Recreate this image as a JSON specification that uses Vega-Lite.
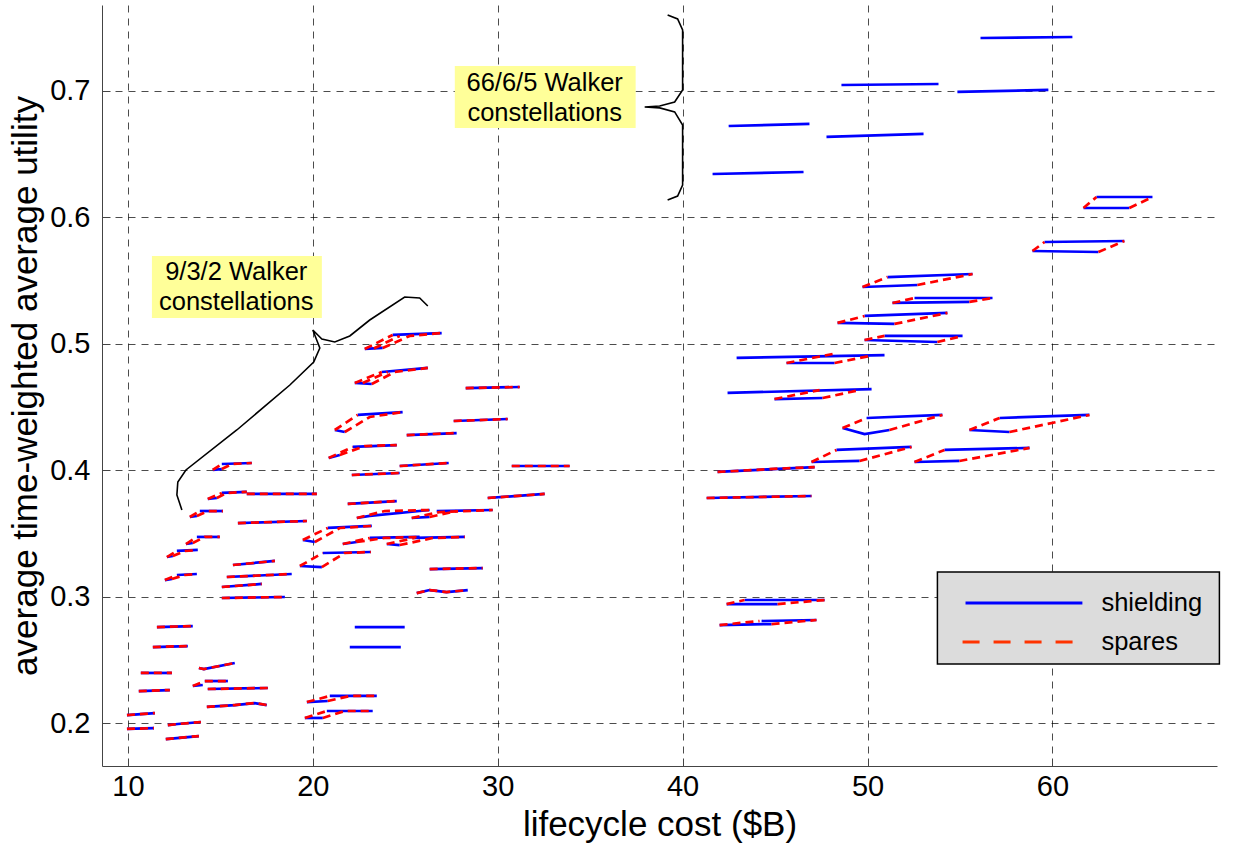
{
"$schema":"https://vega.github.io/schema/vega-lite/v6.json",
"width":1115,"height":761,"autosize":{"type":"none"},
"padding":{"left":102,"top":5,"right":16,"bottom":79},
"config":{"font":"Liberation Sans","view":{"stroke":null},
"axis":{"gridColor":"#000","gridDash":[7,6],"gridOpacity":0.7,"gridWidth":1,"domainColor":"#444","domainWidth":1,"tickColor":"#444","labelColor":"#000","titleColor":"#000","labelFont":"Liberation Sans","titleFont":"Liberation Sans","titleFontWeight":"normal","labelFontSize":29,"titleFontSize":35}},
"datasets":{
"boxes":[{"x":11.30,"xe":20.49,"y":0.5204,"ye":0.5695},{"x":27.68,"xe":37.46,"y":0.6707,"ye":0.7198}],
"boxtext":[{"x":15.86,"y":0.5453,"label":"9/3/2 Walker\nconstellations"},{"x":32.54,"y":0.6945,"label":"66/6/5 Walker\nconstellations"}],
"shielding":[
{"g":"1","x":11.57,"y":0.2759},{"g":"1","x":13.51,"y":0.2767},
{"g":"2","x":11.35,"y":0.2601},{"g":"2","x":13.24,"y":0.2609},
{"g":"3","x":10.70,"y":0.2396},{"g":"3","x":12.38,"y":0.2396},
{"g":"4","x":10.59,"y":0.2253},{"g":"4","x":12.27,"y":0.2261},
{"g":"5","x":9.95,"y":0.2063},{"g":"5","x":11.46,"y":0.2079},
{"g":"6","x":9.95,"y":0.1953},{"g":"6","x":11.41,"y":0.1960},
{"g":"7","x":13.84,"y":0.2435},{"g":"7","x":14.11,"y":0.2427},{"g":"7","x":15.78,"y":0.2475},
{"g":"8a","x":13.51,"y":0.2293},{"g":"8a","x":14.05,"y":0.2301},
{"g":"8b","x":14.16,"y":0.2332},{"g":"8b","x":15.41,"y":0.2332},
{"g":"9","x":14.32,"y":0.2269},{"g":"9","x":17.57,"y":0.2277},
{"g":"10","x":14.27,"y":0.2127},{"g":"10","x":15.78,"y":0.2142},{"g":"10","x":16.86,"y":0.2158},{"g":"10","x":17.51,"y":0.2142},
{"g":"11","x":12.16,"y":0.1984},{"g":"11","x":12.70,"y":0.1992},{"g":"11","x":13.95,"y":0.2008},
{"g":"12","x":12.05,"y":0.1873},{"g":"12","x":13.84,"y":0.1897},
{"g":"13","x":15.08,"y":0.2989},{"g":"13","x":18.49,"y":0.2997},
{"g":"14","x":15.08,"y":0.3076},{"g":"14","x":17.24,"y":0.3100},
{"g":"15","x":15.35,"y":0.3155},{"g":"15","x":18.86,"y":0.3179},
{"g":"16","x":15.68,"y":0.3250},{"g":"16","x":17.95,"y":0.3282},
{"g":"17","x":15.95,"y":0.3582},{"g":"17","x":19.68,"y":0.3598},
{"g":"18","x":16.43,"y":0.3812},{"g":"18","x":20.22,"y":0.3812},
{"g":"19a","x":14.59,"y":0.4002},{"g":"19a","x":15.08,"y":0.4009},
{"g":"19b","x":15.08,"y":0.4049},{"g":"19b","x":16.70,"y":0.4057},
{"g":"20a","x":14.32,"y":0.3772},{"g":"20a","x":14.81,"y":0.3780},
{"g":"20b","x":15.08,"y":0.3820},{"g":"20b","x":16.43,"y":0.3828},
{"g":"21a","x":13.35,"y":0.3630},{"g":"21a","x":13.73,"y":0.3638},
{"g":"21b","x":13.89,"y":0.3677},{"g":"21b","x":15.14,"y":0.3677},
{"g":"22a","x":13.14,"y":0.3416},{"g":"22a","x":13.51,"y":0.3424},
{"g":"22b","x":13.73,"y":0.3472},{"g":"22b","x":14.97,"y":0.3472},
{"g":"23a","x":12.11,"y":0.3313},{"g":"23a","x":12.43,"y":0.3321},
{"g":"23b","x":12.65,"y":0.3361},{"g":"23b","x":13.78,"y":0.3369},
{"g":"24a","x":12.00,"y":0.3131},{"g":"24a","x":12.38,"y":0.3139},
{"g":"24b","x":12.65,"y":0.3171},{"g":"24b","x":13.73,"y":0.3179},
{"g":"25a","x":22.81,"y":0.4959},{"g":"25a","x":23.78,"y":0.4967},
{"g":"25b","x":24.32,"y":0.5070},{"g":"25b","x":26.97,"y":0.5085},
{"g":"26a","x":22.27,"y":0.4690},{"g":"26a","x":23.19,"y":0.4682},
{"g":"26b","x":23.73,"y":0.4777},{"g":"26b","x":26.22,"y":0.4809},
{"g":"27a","x":21.19,"y":0.4318},{"g":"27a","x":21.73,"y":0.4302},
{"g":"27b","x":22.43,"y":0.4437},{"g":"27b","x":24.86,"y":0.4460},
{"g":"28a","x":20.86,"y":0.4097},{"g":"28a","x":21.46,"y":0.4120},
{"g":"28b","x":22.16,"y":0.4184},{"g":"28b","x":24.54,"y":0.4199},
{"g":"29","x":25.08,"y":0.4278},{"g":"29","x":27.78,"y":0.4294},
{"g":"30","x":28.27,"y":0.4650},{"g":"30","x":31.19,"y":0.4658},
{"g":"31","x":27.62,"y":0.4389},{"g":"31","x":30.54,"y":0.4405},
{"g":"32","x":24.70,"y":0.4033},{"g":"32","x":27.35,"y":0.4057},
{"g":"33","x":22.11,"y":0.3962},{"g":"33","x":24.70,"y":0.3978},
{"g":"34","x":30.76,"y":0.4033},{"g":"34","x":33.89,"y":0.4033},
{"g":"35","x":21.89,"y":0.3733},{"g":"35","x":24.54,"y":0.3756},
{"g":"36","x":22.38,"y":0.3622},{"g":"36","x":23.08,"y":0.3638},{"g":"36","x":26.32,"y":0.3685},
{"g":"37a","x":25.35,"y":0.3622},{"g":"37a","x":26.32,"y":0.3630},
{"g":"37b","x":26.70,"y":0.3677},{"g":"37b","x":29.73,"y":0.3685},
{"g":"38","x":29.46,"y":0.3780},{"g":"38","x":32.54,"y":0.3812},
{"g":"39a","x":19.46,"y":0.3448},{"g":"39a","x":20.11,"y":0.3432},
{"g":"39b","x":20.81,"y":0.3543},{"g":"39b","x":23.19,"y":0.3559},
{"g":"40a","x":21.62,"y":0.3416},{"g":"40a","x":22.38,"y":0.3432},
{"g":"40b","x":23.08,"y":0.3464},{"g":"40b","x":25.78,"y":0.3472},
{"g":"41a","x":24.00,"y":0.3416},{"g":"41a","x":24.70,"y":0.3408},
{"g":"41b","x":25.51,"y":0.3464},{"g":"41b","x":28.22,"y":0.3472},
{"g":"42a","x":19.30,"y":0.3242},{"g":"42a","x":20.49,"y":0.3234},
{"g":"42b","x":20.54,"y":0.3345},{"g":"42b","x":23.14,"y":0.3353},
{"g":"43","x":26.32,"y":0.3218},{"g":"43","x":29.19,"y":0.3226},
{"g":"44","x":25.62,"y":0.3028},{"g":"44","x":26.32,"y":0.3052},{"g":"44","x":27.24,"y":0.3036},{"g":"44","x":28.38,"y":0.3052},
{"g":"45","x":22.27,"y":0.2759},{"g":"45","x":24.97,"y":0.2759},
{"g":"46","x":22.00,"y":0.2601},{"g":"46","x":24.76,"y":0.2601},
{"g":"47a","x":19.68,"y":0.2166},{"g":"47a","x":20.81,"y":0.2174},
{"g":"47b","x":20.92,"y":0.2214},{"g":"47b","x":23.46,"y":0.2214},
{"g":"48a","x":19.57,"y":0.2040},{"g":"48a","x":20.54,"y":0.2040},
{"g":"48b","x":20.76,"y":0.2095},{"g":"48b","x":23.24,"y":0.2095},
{"g":"49a","x":42.92,"y":0.4888},{"g":"49a","x":50.92,"y":0.4911},
{"g":"49b","x":45.62,"y":0.4848},{"g":"49b","x":48.22,"y":0.4848},
{"g":"50a","x":42.43,"y":0.4611},{"g":"50a","x":50.22,"y":0.4642},
{"g":"50b","x":44.97,"y":0.4563},{"g":"50b","x":47.57,"y":0.4571},
{"g":"51","x":41.89,"y":0.3986},{"g":"51","x":47.14,"y":0.4025},
{"g":"52","x":41.30,"y":0.3780},{"g":"52","x":46.97,"y":0.3796},
{"g":"53a","x":42.38,"y":0.2941},{"g":"53a","x":45.14,"y":0.2941},
{"g":"53b","x":43.35,"y":0.2973},{"g":"53b","x":47.68,"y":0.2973},
{"g":"54a","x":42.00,"y":0.2775},{"g":"54a","x":44.81,"y":0.2783},
{"g":"54b","x":44.27,"y":0.2807},{"g":"54b","x":47.24,"y":0.2815},
{"g":"55a","x":49.84,"y":0.5030},{"g":"55a","x":53.78,"y":0.5014},
{"g":"55b","x":50.92,"y":0.5062},{"g":"55b","x":55.14,"y":0.5062},
{"g":"56a","x":48.38,"y":0.5165},{"g":"56a","x":51.46,"y":0.5157},
{"g":"56b","x":49.84,"y":0.5220},{"g":"56b","x":54.32,"y":0.5244},
{"g":"57a","x":51.35,"y":0.5323},{"g":"57a","x":55.51,"y":0.5331},
{"g":"57b","x":52.54,"y":0.5362},{"g":"57b","x":56.76,"y":0.5362},
{"g":"58a","x":49.73,"y":0.5449},{"g":"58a","x":52.70,"y":0.5465},
{"g":"58b","x":51.08,"y":0.5528},{"g":"58b","x":55.68,"y":0.5552},
{"g":"59a","x":48.65,"y":0.4334},{"g":"59a","x":49.84,"y":0.4286},{"g":"59a","x":51.19,"y":0.4318},
{"g":"59b","x":49.95,"y":0.4413},{"g":"59b","x":54.05,"y":0.4437},
{"g":"60a","x":46.97,"y":0.4065},{"g":"60a","x":49.57,"y":0.4073},
{"g":"60b","x":48.32,"y":0.4160},{"g":"60b","x":52.38,"y":0.4184},
{"g":"61a","x":52.54,"y":0.4065},{"g":"61a","x":54.97,"y":0.4073},
{"g":"61b","x":54.16,"y":0.4160},{"g":"61b","x":58.76,"y":0.4176},
{"g":"62a","x":55.51,"y":0.4318},{"g":"62a","x":57.68,"y":0.4302},
{"g":"62b","x":57.14,"y":0.4413},{"g":"62b","x":62.00,"y":0.4437},
{"g":"63a","x":58.92,"y":0.5734},{"g":"63a","x":62.49,"y":0.5726},
{"g":"63b","x":59.57,"y":0.5805},{"g":"63b","x":63.89,"y":0.5813},
{"g":"64a","x":61.68,"y":0.6074},{"g":"64a","x":64.16,"y":0.6074},
{"g":"64b","x":62.38,"y":0.6161},{"g":"64b","x":65.41,"y":0.6161},
{"g":"65","x":56.11,"y":0.7419},{"g":"65","x":61.08,"y":0.7427},
{"g":"66","x":48.59,"y":0.7047},{"g":"66","x":53.84,"y":0.7055},
{"g":"67","x":54.86,"y":0.6992},{"g":"67","x":59.78,"y":0.7008},
{"g":"68","x":42.49,"y":0.6723},{"g":"68","x":46.86,"y":0.6739},
{"g":"69","x":47.78,"y":0.6636},{"g":"69","x":53.03,"y":0.6660},
{"g":"70","x":41.62,"y":0.6343},{"g":"70","x":46.54,"y":0.6359}
],
"spares":[
{"g":"1","x":11.57,"y":0.2759},{"g":"1","x":13.51,"y":0.2767},
{"g":"2","x":11.35,"y":0.2601},{"g":"2","x":13.24,"y":0.2609},
{"g":"3","x":10.70,"y":0.2396},{"g":"3","x":12.38,"y":0.2396},
{"g":"4","x":10.59,"y":0.2253},{"g":"4","x":12.27,"y":0.2261},
{"g":"5","x":9.95,"y":0.2063},{"g":"5","x":11.46,"y":0.2079},
{"g":"6","x":9.95,"y":0.1953},{"g":"6","x":11.41,"y":0.1960},
{"g":"7","x":13.84,"y":0.2435},{"g":"7","x":14.11,"y":0.2427},{"g":"7","x":15.78,"y":0.2475},
{"g":"8","x":13.51,"y":0.2293},{"g":"8","x":14.16,"y":0.2332},{"g":"8","x":15.41,"y":0.2332},
{"g":"9","x":14.32,"y":0.2269},{"g":"9","x":17.57,"y":0.2277},
{"g":"10","x":14.27,"y":0.2127},{"g":"10","x":15.78,"y":0.2142},{"g":"10","x":16.86,"y":0.2158},{"g":"10","x":17.51,"y":0.2142},
{"g":"11","x":12.16,"y":0.1984},{"g":"11","x":12.70,"y":0.1992},{"g":"11","x":13.95,"y":0.2008},
{"g":"12","x":12.05,"y":0.1873},{"g":"12","x":13.84,"y":0.1897},
{"g":"13","x":15.08,"y":0.2989},{"g":"13","x":18.49,"y":0.2997},
{"g":"14","x":15.08,"y":0.3076},{"g":"14","x":17.24,"y":0.3100},
{"g":"15","x":15.35,"y":0.3155},{"g":"15","x":18.86,"y":0.3179},
{"g":"16","x":15.68,"y":0.3250},{"g":"16","x":17.95,"y":0.3282},
{"g":"17","x":15.95,"y":0.3582},{"g":"17","x":19.68,"y":0.3598},
{"g":"18","x":16.43,"y":0.3812},{"g":"18","x":20.22,"y":0.3812},
{"g":"19r1","x":14.59,"y":0.4002},{"g":"19r1","x":15.08,"y":0.4049},
{"g":"19r2","x":15.08,"y":0.4009},{"g":"19r2","x":15.62,"y":0.4049},{"g":"19r2","x":16.70,"y":0.4057},
{"g":"20r1","x":14.32,"y":0.3772},{"g":"20r1","x":15.08,"y":0.3820},
{"g":"20r2","x":14.81,"y":0.3780},{"g":"20r2","x":15.35,"y":0.3820},{"g":"20r2","x":16.43,"y":0.3828},
{"g":"21r1","x":13.35,"y":0.3630},{"g":"21r1","x":13.89,"y":0.3677},
{"g":"21r2","x":13.73,"y":0.3638},{"g":"21r2","x":14.32,"y":0.3677},{"g":"21r2","x":15.14,"y":0.3677},
{"g":"22r1","x":13.14,"y":0.3416},{"g":"22r1","x":13.73,"y":0.3472},
{"g":"22r2","x":13.51,"y":0.3424},{"g":"22r2","x":14.16,"y":0.3472},{"g":"22r2","x":14.97,"y":0.3472},
{"g":"23r1","x":12.11,"y":0.3313},{"g":"23r1","x":12.65,"y":0.3361},
{"g":"23r2","x":12.43,"y":0.3321},{"g":"23r2","x":13.08,"y":0.3361},{"g":"23r2","x":13.78,"y":0.3369},
{"g":"24r1","x":12.00,"y":0.3131},{"g":"24r1","x":12.65,"y":0.3171},
{"g":"24r2","x":12.38,"y":0.3139},{"g":"24r2","x":13.08,"y":0.3171},{"g":"24r2","x":13.73,"y":0.3179},
{"g":"25r1","x":22.81,"y":0.4959},{"g":"25r1","x":24.32,"y":0.5070},
{"g":"25r2","x":23.78,"y":0.4967},{"g":"25r2","x":25.24,"y":0.5062},{"g":"25r2","x":26.97,"y":0.5085},
{"g":"25r3","x":23.30,"y":0.4963},{"g":"25r3","x":24.70,"y":0.5062},
{"g":"26r1","x":22.27,"y":0.4690},{"g":"26r1","x":23.73,"y":0.4777},
{"g":"26r2","x":23.19,"y":0.4682},{"g":"26r2","x":24.43,"y":0.4777},{"g":"26r2","x":26.22,"y":0.4809},
{"g":"26r3","x":22.70,"y":0.4690},{"g":"26r3","x":24.05,"y":0.4777},
{"g":"27r1","x":21.19,"y":0.4318},{"g":"27r1","x":22.43,"y":0.4437},
{"g":"27r2","x":21.73,"y":0.4302},{"g":"27r2","x":23.08,"y":0.4421},{"g":"27r2","x":24.86,"y":0.4460},
{"g":"28r1","x":20.86,"y":0.4097},{"g":"28r1","x":22.16,"y":0.4184},
{"g":"28r2","x":21.46,"y":0.4120},{"g":"28r2","x":22.81,"y":0.4191},{"g":"28r2","x":24.54,"y":0.4199},
{"g":"29","x":25.08,"y":0.4278},{"g":"29","x":27.78,"y":0.4294},
{"g":"30","x":28.27,"y":0.4650},{"g":"30","x":31.19,"y":0.4658},
{"g":"31","x":27.62,"y":0.4389},{"g":"31","x":30.54,"y":0.4405},
{"g":"32","x":24.70,"y":0.4033},{"g":"32","x":27.35,"y":0.4057},
{"g":"33","x":22.11,"y":0.3962},{"g":"33","x":24.70,"y":0.3978},
{"g":"34","x":30.76,"y":0.4033},{"g":"34","x":33.89,"y":0.4033},
{"g":"35","x":21.89,"y":0.3733},{"g":"35","x":24.54,"y":0.3756},
{"g":"36","x":22.38,"y":0.3622},{"g":"36","x":23.89,"y":0.3677},{"g":"36","x":26.32,"y":0.3685},
{"g":"37r1","x":25.35,"y":0.3622},{"g":"37r1","x":26.86,"y":0.3669},{"g":"37r1","x":29.73,"y":0.3685},
{"g":"37r2","x":26.32,"y":0.3630},{"g":"37r2","x":27.78,"y":0.3677},
{"g":"38","x":29.46,"y":0.3780},{"g":"38","x":32.54,"y":0.3812},
{"g":"39r1","x":19.46,"y":0.3448},{"g":"39r1","x":20.81,"y":0.3543},
{"g":"39r2","x":20.11,"y":0.3432},{"g":"39r2","x":21.46,"y":0.3543},{"g":"39r2","x":23.19,"y":0.3559},
{"g":"40r1","x":21.62,"y":0.3416},{"g":"40r1","x":23.08,"y":0.3464},
{"g":"40r2","x":22.38,"y":0.3432},{"g":"40r2","x":23.89,"y":0.3464},{"g":"40r2","x":25.78,"y":0.3472},
{"g":"41r1","x":24.00,"y":0.3416},{"g":"41r1","x":25.51,"y":0.3464},
{"g":"41r2","x":24.70,"y":0.3408},{"g":"41r2","x":26.49,"y":0.3464},{"g":"41r2","x":28.22,"y":0.3472},
{"g":"42r1","x":19.30,"y":0.3242},{"g":"42r1","x":20.54,"y":0.3345},
{"g":"42r2","x":20.49,"y":0.3234},{"g":"42r2","x":21.73,"y":0.3345},{"g":"42r2","x":23.14,"y":0.3353},
{"g":"43","x":26.32,"y":0.3218},{"g":"43","x":29.19,"y":0.3226},
{"g":"44","x":25.62,"y":0.3028},{"g":"44","x":26.32,"y":0.3052},{"g":"44","x":27.24,"y":0.3036},{"g":"44","x":28.38,"y":0.3052},
{"g":"47r1","x":19.68,"y":0.2166},{"g":"47r1","x":20.92,"y":0.2214},
{"g":"47r2","x":20.81,"y":0.2174},{"g":"47r2","x":22.00,"y":0.2214},{"g":"47r2","x":23.46,"y":0.2214},
{"g":"48r1","x":19.57,"y":0.2040},{"g":"48r1","x":20.76,"y":0.2095},
{"g":"48r2","x":20.54,"y":0.2040},{"g":"48r2","x":21.73,"y":0.2095},{"g":"48r2","x":23.24,"y":0.2095},
{"g":"49r1","x":45.62,"y":0.4848},{"g":"49r1","x":48.11,"y":0.4919},
{"g":"49r2","x":48.22,"y":0.4848},{"g":"49r2","x":50.11,"y":0.4903},
{"g":"50r1","x":44.97,"y":0.4563},{"g":"50r1","x":47.41,"y":0.4634},
{"g":"50r2","x":47.57,"y":0.4571},{"g":"50r2","x":49.57,"y":0.4634},
{"g":"51","x":41.89,"y":0.3986},{"g":"51","x":44.70,"y":0.4009},{"g":"51","x":47.14,"y":0.4025},
{"g":"52","x":41.30,"y":0.3780},{"g":"52","x":46.97,"y":0.3796},
{"g":"53r1","x":42.38,"y":0.2941},{"g":"53r1","x":43.35,"y":0.2973},
{"g":"53r2","x":45.14,"y":0.2941},{"g":"53r2","x":47.68,"y":0.2973},
{"g":"54r1","x":42.00,"y":0.2775},{"g":"54r1","x":44.16,"y":0.2807},
{"g":"54r2","x":44.81,"y":0.2783},{"g":"54r2","x":47.24,"y":0.2815},
{"g":"55r1","x":49.84,"y":0.5030},{"g":"55r1","x":50.92,"y":0.5062},
{"g":"55r2","x":53.78,"y":0.5014},{"g":"55r2","x":55.14,"y":0.5062},
{"g":"56r1","x":48.38,"y":0.5165},{"g":"56r1","x":49.84,"y":0.5220},
{"g":"56r2","x":51.46,"y":0.5157},{"g":"56r2","x":54.32,"y":0.5244},
{"g":"57r1","x":51.35,"y":0.5323},{"g":"57r1","x":52.54,"y":0.5362},
{"g":"57r2","x":55.51,"y":0.5331},{"g":"57r2","x":56.76,"y":0.5362},
{"g":"58r1","x":49.73,"y":0.5449},{"g":"58r1","x":51.08,"y":0.5528},
{"g":"58r2","x":52.70,"y":0.5465},{"g":"58r2","x":55.68,"y":0.5552},
{"g":"59r1","x":48.65,"y":0.4334},{"g":"59r1","x":49.95,"y":0.4413},
{"g":"59r2","x":51.19,"y":0.4318},{"g":"59r2","x":54.05,"y":0.4437},
{"g":"60r1","x":46.97,"y":0.4065},{"g":"60r1","x":48.32,"y":0.4160},
{"g":"60r2","x":49.57,"y":0.4073},{"g":"60r2","x":52.38,"y":0.4184},
{"g":"61r1","x":52.54,"y":0.4065},{"g":"61r1","x":54.16,"y":0.4160},
{"g":"61r2","x":54.97,"y":0.4073},{"g":"61r2","x":58.76,"y":0.4176},
{"g":"62r1","x":55.51,"y":0.4318},{"g":"62r1","x":57.14,"y":0.4413},
{"g":"62r2","x":57.68,"y":0.4302},{"g":"62r2","x":62.00,"y":0.4437},
{"g":"63r1","x":58.92,"y":0.5734},{"g":"63r1","x":59.57,"y":0.5805},
{"g":"63r2","x":62.49,"y":0.5726},{"g":"63r2","x":63.89,"y":0.5813},
{"g":"64r1","x":61.68,"y":0.6074},{"g":"64r1","x":62.38,"y":0.6161},
{"g":"64r2","x":64.16,"y":0.6074},{"g":"64r2","x":65.41,"y":0.6161}
],
"brace":[
{"g":"a","o":1,"x":12.92,"y":0.3685},{"g":"a","o":2,"x":12.65,"y":0.3804},{"g":"a","o":3,"x":12.70,"y":0.3907},{"g":"a","o":4,"x":13.14,"y":0.4002},{"g":"a","o":5,"x":15.89,"y":0.4318},{"g":"a","o":6,"x":18.76,"y":0.4674},{"g":"a","o":7,"x":20.05,"y":0.4856},{"g":"a","o":8,"x":20.38,"y":0.4967},{"g":"a","o":9,"x":20.00,"y":0.5109},{"g":"a","o":10,"x":20.49,"y":0.5038},{"g":"a","o":11,"x":21.19,"y":0.5014},{"g":"a","o":12,"x":22.00,"y":0.5062},{"g":"a","o":13,"x":23.08,"y":0.5188},{"g":"a","o":14,"x":24.97,"y":0.5370},{"g":"a","o":15,"x":25.78,"y":0.5362},{"g":"a","o":16,"x":26.22,"y":0.5299},
{"g":"b","o":1,"x":39.19,"y":0.7601},{"g":"b","o":2,"x":39.73,"y":0.7570},{"g":"b","o":3,"x":40.00,"y":0.7483},{"g":"b","o":4,"x":40.00,"y":0.7008},{"g":"b","o":5,"x":39.57,"y":0.6913},{"g":"b","o":6,"x":38.76,"y":0.6881},{"g":"b","o":7,"x":37.95,"y":0.6873},{"g":"b","o":8,"x":38.76,"y":0.6866},{"g":"b","o":9,"x":39.57,"y":0.6834},{"g":"b","o":10,"x":40.00,"y":0.6731},{"g":"b","o":11,"x":40.00,"y":0.6256},{"g":"b","o":12,"x":39.73,"y":0.6169},{"g":"b","o":13,"x":39.19,"y":0.6138}
],
"legbox":[{"x":53.78,"xe":69.03,"y":0.2467,"ye":0.3195}],
"legblue":[{"x":55.30,"y":0.2949},{"x":61.62,"y":0.2949}],
"legred":[{"x":55.14,"y":0.2641},{"x":61.14,"y":0.2641}],
"legtext":[{"x":62.65,"y":0.2949,"label":"shielding"},{"x":62.65,"y":0.2641,"label":"spares"}]
},
"encoding":{
"x":{"field":"x","type":"quantitative","scale":{"domain":[8.6,68.9],"nice":false,"zero":false},
"axis":{"title":"lifecycle cost ($B)","values":[10,20,30,40,50,60],"format":"d","tickSize":-8,"labelPadding":14,"titlePadding":6}},
"y":{"field":"y","type":"quantitative","scale":{"domain":[0.166,0.768],"nice":false,"zero":false},
"axis":{"title":"average time-weighted average utility","values":[0.2,0.3,0.4,0.5,0.6,0.7],"format":".1f","tickSize":-8,"labelPadding":20,"titlePadding":6}}
},
"layer":[
{"data":{"name":"boxes"},"mark":{"type":"rect","fill":"#ffff99"},"encoding":{"x2":{"field":"xe"},"y2":{"field":"ye"}}},
{"data":{"name":"boxtext"},"mark":{"type":"text","fontSize":25.5,"lineBreak":"\n","lineHeight":30,"align":"center","baseline":"middle","dy":-15,"color":"#000"},"encoding":{"text":{"field":"label"}}},
{"data":{"name":"shielding"},"mark":{"type":"line","color":"#0000ff","strokeWidth":2.7},"encoding":{"detail":{"field":"g"}}},
{"data":{"name":"spares"},"mark":{"type":"line","color":"#ff0000","strokeWidth":2.7,"strokeDash":[8,5]},"encoding":{"detail":{"field":"g"}}},
{"data":{"name":"brace"},"mark":{"type":"line","color":"#000","strokeWidth":1.6},"encoding":{"detail":{"field":"g"},"order":{"field":"o"}}},
{"data":{"name":"legbox"},"mark":{"type":"rect","fill":"#dcdcdc","stroke":"#000","strokeWidth":1.5},"encoding":{"x2":{"field":"xe"},"y2":{"field":"ye"}}},
{"data":{"name":"legblue"},"mark":{"type":"line","color":"#0000ff","strokeWidth":3},"encoding":{}},
{"data":{"name":"legred"},"mark":{"type":"line","color":"#ff3300","strokeWidth":3,"strokeDash":[17,14]},"encoding":{}},
{"data":{"name":"legtext"},"mark":{"type":"text","fontSize":25.5,"align":"left","baseline":"middle","color":"#000"},"encoding":{"text":{"field":"label"}}}
]
}
